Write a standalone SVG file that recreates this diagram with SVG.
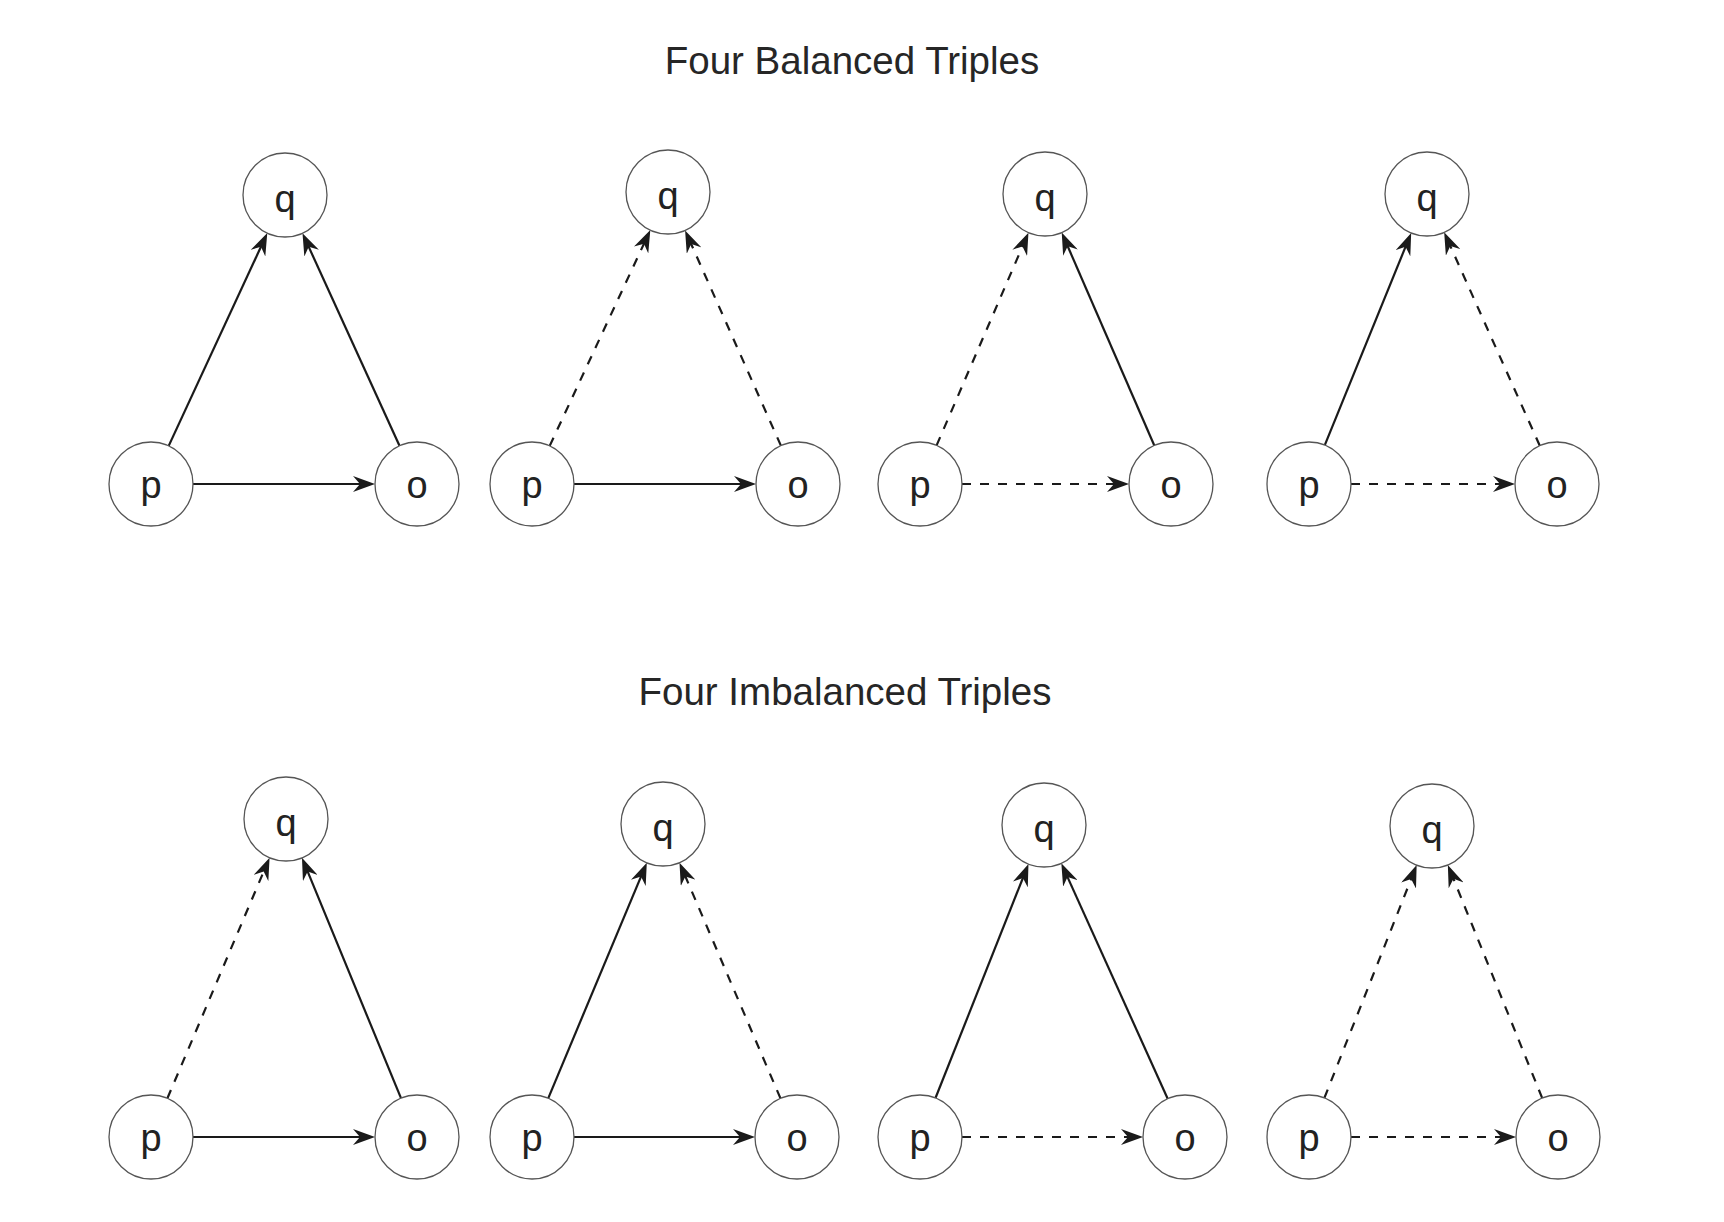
<svg xmlns="http://www.w3.org/2000/svg" width="1724" height="1222" viewBox="0 0 1724 1222">
<style>
.title{font-family:"Liberation Sans",Arial,sans-serif;font-size:38.5px;fill:#262626;text-anchor:middle}
.node circle{fill:#fff;stroke:#555;stroke-width:1.3}
.node text{font-family:"Liberation Sans",Arial,sans-serif;font-size:38px;fill:#222;text-anchor:middle}
.e{stroke:#1a1a1a;stroke-width:2.2;fill:none;marker-end:url(#ah)}
.d{stroke-dasharray:9 9}
</style>
<defs>
<marker id="ah" viewBox="0 0 22 16" markerWidth="22" markerHeight="16" refX="8" refY="8" orient="auto" markerUnits="userSpaceOnUse">
<path d="M0,0 L22,8 L0,16 L7,8 z" fill="#1a1a1a"/>
</marker>
</defs>
<rect width="1724" height="1222" fill="#fff"/>
<text class="title" x="852" y="74">Four Balanced Triples</text>
<text class="title" x="845" y="705">Four Imbalanced Triples</text>

<g id="connectors">
<!-- T1 -->
<line class="e" x1="168.7" y1="445.9" x2="261.4" y2="245.8"/>
<line class="e" x1="399.5" y1="445.8" x2="308.3" y2="245.9"/>
<line class="e" x1="193" y1="484" x2="361" y2="484"/>
<!-- T2 -->
<line class="e d" x1="549.7" y1="445.9" x2="644.4" y2="242.8"/>
<line class="e d" x1="780.9" y1="445.6" x2="690.8" y2="243.2"/>
<line class="e" x1="574" y1="484" x2="742" y2="484"/>
<!-- T3 -->
<line class="e d" x1="936.6" y1="445.4" x2="1022.9" y2="245.5"/>
<line class="e" x1="1154.3" y1="445.5" x2="1067.3" y2="245.3"/>
<line class="e d" x1="962" y1="484" x2="1115" y2="484"/>
<!-- T4 -->
<line class="e" x1="1324.8" y1="445.1" x2="1405.9" y2="245.9"/>
<line class="e d" x1="1539.8" y1="445.7" x2="1449.9" y2="245.1"/>
<line class="e d" x1="1351" y1="484" x2="1501" y2="484"/>
<!-- B1 -->
<line class="e d" x1="167.4" y1="1098.3" x2="264.1" y2="870.6"/>
<line class="e" x1="401" y1="1098.2" x2="307.3" y2="870.7"/>
<line class="e" x1="193" y1="1137" x2="361" y2="1137"/>
<!-- B2 -->
<line class="e" x1="548.2" y1="1098.3" x2="641.4" y2="875.6"/>
<line class="e d" x1="780.5" y1="1098.4" x2="685" y2="875.5"/>
<line class="e" x1="574" y1="1137" x2="741" y2="1137"/>
<!-- B3 -->
<line class="e" x1="935.5" y1="1098" x2="1023.3" y2="877"/>
<line class="e" x1="1167.7" y1="1098.7" x2="1067.1" y2="876.1"/>
<line class="e d" x1="962" y1="1137" x2="1129" y2="1137"/>
<!-- B4 -->
<line class="e d" x1="1324.4" y1="1097.9" x2="1411.5" y2="878.1"/>
<line class="e d" x1="1542.2" y1="1098.1" x2="1453.1" y2="877.9"/>
<line class="e d" x1="1351" y1="1137" x2="1502" y2="1137"/>
</g>

<g id="t1-q" class="node"><circle cx="285" cy="195" r="42"/><text x="285" y="212">q</text></g>
<g id="t1-p" class="node"><circle cx="151" cy="484" r="42"/><text x="151" y="498">p</text></g>
<g id="t1-o" class="node"><circle cx="417" cy="484" r="42"/><text x="417" y="498">o</text></g>

<g id="t2-q" class="node"><circle cx="668" cy="192" r="42"/><text x="668" y="209">q</text></g>
<g id="t2-p" class="node"><circle cx="532" cy="484" r="42"/><text x="532" y="498">p</text></g>
<g id="t2-o" class="node"><circle cx="798" cy="484" r="42"/><text x="798" y="498">o</text></g>

<g id="t3-q" class="node"><circle cx="1045" cy="194" r="42"/><text x="1045" y="211">q</text></g>
<g id="t3-p" class="node"><circle cx="920" cy="484" r="42"/><text x="920" y="498">p</text></g>
<g id="t3-o" class="node"><circle cx="1171" cy="484" r="42"/><text x="1171" y="498">o</text></g>

<g id="t4-q" class="node"><circle cx="1427" cy="194" r="42"/><text x="1427" y="211">q</text></g>
<g id="t4-p" class="node"><circle cx="1309" cy="484" r="42"/><text x="1309" y="498">p</text></g>
<g id="t4-o" class="node"><circle cx="1557" cy="484" r="42"/><text x="1557" y="498">o</text></g>

<g id="b1-q" class="node"><circle cx="286" cy="819" r="42"/><text x="286" y="836">q</text></g>
<g id="b1-p" class="node"><circle cx="151" cy="1137" r="42"/><text x="151" y="1151">p</text></g>
<g id="b1-o" class="node"><circle cx="417" cy="1137" r="42"/><text x="417" y="1151">o</text></g>

<g id="b2-q" class="node"><circle cx="663" cy="824" r="42"/><text x="663" y="841">q</text></g>
<g id="b2-p" class="node"><circle cx="532" cy="1137" r="42"/><text x="532" y="1151">p</text></g>
<g id="b2-o" class="node"><circle cx="797" cy="1137" r="42"/><text x="797" y="1151">o</text></g>

<g id="b3-q" class="node"><circle cx="1044" cy="825" r="42"/><text x="1044" y="842">q</text></g>
<g id="b3-p" class="node"><circle cx="920" cy="1137" r="42"/><text x="920" y="1151">p</text></g>
<g id="b3-o" class="node"><circle cx="1185" cy="1137" r="42"/><text x="1185" y="1151">o</text></g>

<g id="b4-q" class="node"><circle cx="1432" cy="826" r="42"/><text x="1432" y="843">q</text></g>
<g id="b4-p" class="node"><circle cx="1309" cy="1137" r="42"/><text x="1309" y="1151">p</text></g>
<g id="b4-o" class="node"><circle cx="1558" cy="1137" r="42"/><text x="1558" y="1151">o</text></g>
</svg>
